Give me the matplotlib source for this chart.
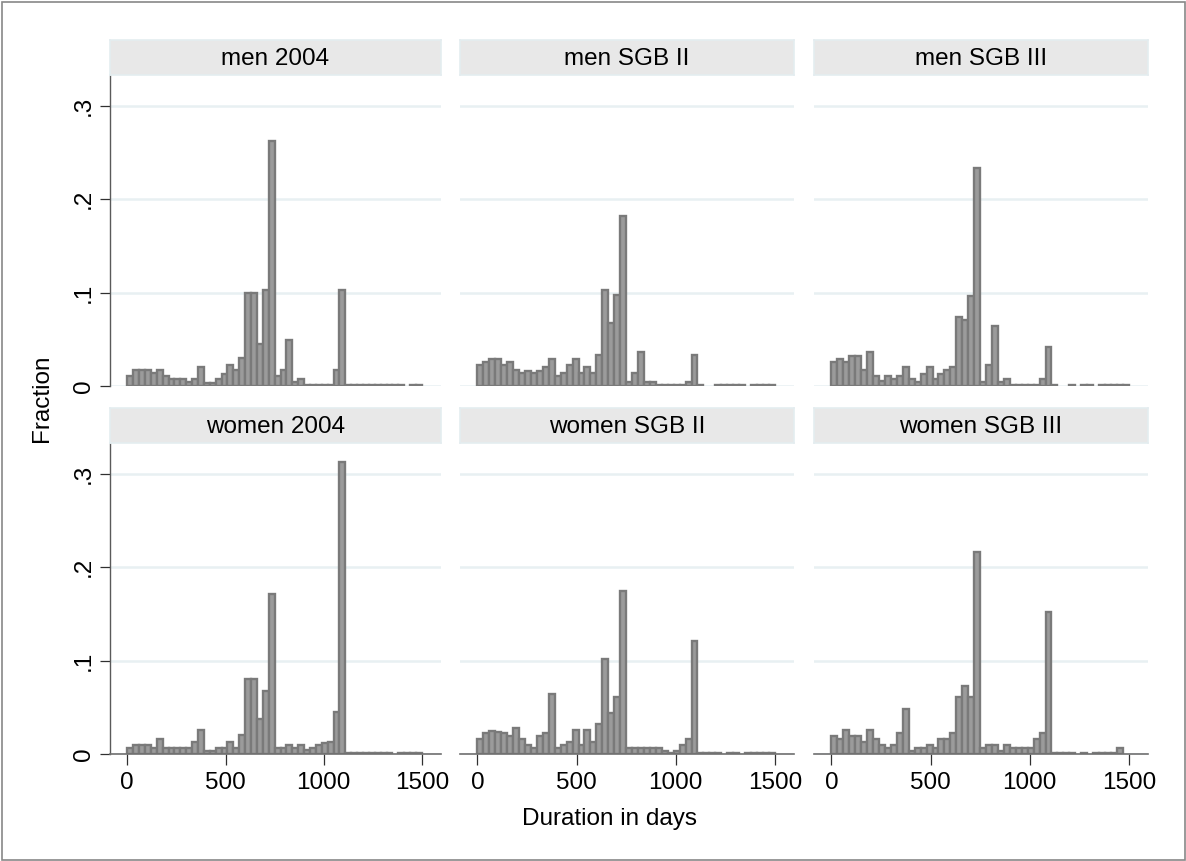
import numpy as np
import matplotlib
matplotlib.use('Agg')
import matplotlib.pyplot as plt
from matplotlib.patches import Rectangle

plt.rcParams['font.family'] = ['Liberation Sans', 'DejaVu Sans']

W, H = 1186, 861

BIN_WIDTH = 30
bin_edges = np.arange(0, 1501, BIN_WIDTH)

panel_titles = ['men 2004', 'men SGB II', 'men SGB III',
                'women 2004', 'women SGB II', 'women SGB III']

# fraction per 30-day bin, 50 bins from 0 to 1500 days
men_2004 = [0.011, 0.017, 0.017, 0.017, 0.014, 0.017, 0.011, 0.007, 0.007, 0.007,
            0.004, 0.007, 0.020, 0.003, 0.003, 0.007, 0.013, 0.023, 0.017, 0.030,
            0.100, 0.100, 0.045, 0.103, 0.262, 0.011, 0.017, 0.049, 0.004, 0.007,
            0.001, 0.001, 0.001, 0.001, 0.001, 0.017, 0.103, 0.001, 0.001, 0.001,
            0.001, 0.001, 0.001, 0.001, 0.001, 0.001, 0.001, 0.0, 0.001, 0.001]
men_sgb2 = [0.023, 0.026, 0.029, 0.029, 0.023, 0.026, 0.017, 0.014, 0.016, 0.014,
            0.016, 0.020, 0.029, 0.011, 0.014, 0.023, 0.029, 0.014, 0.020, 0.014,
            0.033, 0.103, 0.067, 0.097, 0.182, 0.004, 0.014, 0.036, 0.004, 0.004,
            0.001, 0.001, 0.001, 0.001, 0.001, 0.004, 0.033, 0.001, 0.0, 0.0,
            0.001, 0.001, 0.001, 0.001, 0.001, 0.0, 0.001, 0.001, 0.001, 0.001]
men_sgb3 = [0.026, 0.029, 0.026, 0.032, 0.032, 0.017, 0.036, 0.011, 0.005, 0.011,
            0.007, 0.011, 0.020, 0.007, 0.004, 0.013, 0.020, 0.007, 0.013, 0.017,
            0.020, 0.074, 0.071, 0.096, 0.233, 0.004, 0.023, 0.064, 0.004, 0.007,
            0.001, 0.001, 0.001, 0.001, 0.001, 0.007, 0.042, 0.001, 0.0, 0.0,
            0.001, 0.0, 0.001, 0.001, 0.0, 0.001, 0.001, 0.001, 0.001, 0.001]
women_2004 = [0.006, 0.010, 0.010, 0.010, 0.006, 0.016, 0.006, 0.006, 0.006, 0.006,
              0.006, 0.013, 0.026, 0.003, 0.003, 0.006, 0.006, 0.013, 0.006, 0.020,
              0.080, 0.080, 0.038, 0.067, 0.171, 0.006, 0.006, 0.010, 0.006, 0.010,
              0.004, 0.006, 0.010, 0.012, 0.013, 0.045, 0.313, 0.0007, 0.0007, 0.0007,
              0.0007, 0.0007, 0.0007, 0.0007, 0.0007, 0.0, 0.0007, 0.0007, 0.0007, 0.0007]
women_sgb2 = [0.016, 0.022, 0.025, 0.024, 0.022, 0.019, 0.028, 0.016, 0.010, 0.006,
              0.019, 0.022, 0.064, 0.006, 0.010, 0.013, 0.026, 0.010, 0.026, 0.013,
              0.032, 0.102, 0.044, 0.061, 0.174, 0.006, 0.006, 0.006, 0.006, 0.006,
              0.006, 0.003, 0.001, 0.003, 0.010, 0.016, 0.121, 0.0007, 0.0007, 0.0007,
              0.0007, 0.0, 0.0007, 0.0007, 0.0, 0.0007, 0.0007, 0.0007, 0.0007, 0.0007]
women_sgb3 = [0.019, 0.016, 0.026, 0.019, 0.019, 0.013, 0.026, 0.016, 0.010, 0.006,
              0.010, 0.022, 0.048, 0.003, 0.006, 0.006, 0.010, 0.006, 0.016, 0.016,
              0.022, 0.061, 0.073, 0.061, 0.216, 0.006, 0.010, 0.010, 0.003, 0.010,
              0.006, 0.006, 0.006, 0.006, 0.016, 0.022, 0.152, 0.0007, 0.0007, 0.0007,
              0.0007, 0.0, 0.0007, 0.0, 0.0007, 0.0007, 0.0007, 0.0007, 0.006, 0.0]

panel_data = [men_2004, men_sgb2, men_sgb3, women_2004, women_sgb2, women_sgb3]

y_ticks = [0, 0.1, 0.2, 0.3]
y_tick_labels = ['0', '.1', '.2', '.3']
x_ticks = [0, 500, 1000, 1500]
x_tick_labels = ['0', '500', '1000', '1500']

# pixel boxes of the plot regions
COL_X = [(110, 441), (460, 794), (814, 1148)]
ROW_Y = [(75, 386), (443, 754)]
STRIP_H = 35

BAR_FILL = '#9b9b9b'
BAR_EDGE = '#7a7a7a'
GRID_COLOR = '#e8f0f2'
AXIS_COLOR = '#5a5a5a'
FONT_SIZE = 17.5


def px_box(x0, x1, y0, y1):
    return [x0 / W, 1 - y1 / H, (x1 - x0) / W, (y1 - y0) / H]


def draw_strip(fig, x0, x1, y_top, title):
    sax = fig.add_axes(px_box(x0, x1, y_top - STRIP_H, y_top))
    sax.set_xticks([])
    sax.set_yticks([])
    sax.set_facecolor('#e8e8e8')
    for sp in sax.spines.values():
        sp.set_color('#e4edf0')
        sp.set_linewidth(1.2)
    sax.text(0.5, 0.47, title, ha='center', va='center', fontsize=FONT_SIZE,
             transform=sax.transAxes)


def draw_panel(fig, row, col, values, title):
    x0, x1 = COL_X[col]
    y0, y1 = ROW_Y[row]
    ax = fig.add_axes(px_box(x0, x1, y0, y1))
    ax.set_xlim(-88, 1597)
    ax.set_ylim(0, 0.333)

    for t in y_ticks:
        ax.axhline(t, color=GRID_COLOR, lw=1.8, zorder=0)

    vals = np.array(values)
    keep = vals > 0
    ax.bar(bin_edges[:-1][keep], vals[keep], width=BIN_WIDTH, align='edge',
           color=BAR_FILL, edgecolor=BAR_EDGE, linewidth=1.7, zorder=2)

    for sp in ax.spines.values():
        sp.set_visible(False)

    ax.set_yticks(y_ticks)
    if col == 0:
        ax.spines['left'].set_visible(True)
        ax.spines['left'].set_color(AXIS_COLOR)
        ax.spines['left'].set_linewidth(1.0)
        ax.set_yticklabels(y_tick_labels, rotation=90, va='center',
                           fontsize=FONT_SIZE)
        ax.tick_params(axis='y', length=7, width=0.9, color='#303030', pad=4)
    else:
        ax.tick_params(axis='y', length=0, labelleft=False)

    ax.set_xticks(x_ticks)
    if row == 1:
        ax.spines['bottom'].set_visible(True)
        ax.spines['bottom'].set_color('#707070')
        ax.spines['bottom'].set_linewidth(1.2)
        ax.set_xticklabels(x_tick_labels, fontsize=FONT_SIZE)
        ax.tick_params(axis='x', length=8, width=0.9, color='#303030', pad=5)
    else:
        ax.tick_params(axis='x', length=0, labelbottom=False)

    draw_strip(fig, x0, x1, y0, title)
    return ax


def main():
    fig = plt.figure(figsize=(W / 100, H / 100), dpi=100)
    fig.patch.set_facecolor('white')

    for i, (title, values) in enumerate(zip(panel_titles, panel_data)):
        draw_panel(fig, i // 3, i % 3, values, title)

    fig.text(42 / W, 1 - 398 / H, 'Fraction', rotation=90, ha='center',
             va='center', fontsize=FONT_SIZE)
    fig.text(609 / W, 1 - 819 / H, 'Duration in days', ha='center',
             va='center', fontsize=FONT_SIZE)

    fig.patches.append(Rectangle((1.5 / W, 1.5 / H), (W - 3) / W, (H - 3) / H,
                                 transform=fig.transFigure, fill=False,
                                 edgecolor='#888888', linewidth=1.2))

    fig.savefig('out.png', dpi=100)
    plt.close(fig)


if __name__ == '__main__':
    main()
